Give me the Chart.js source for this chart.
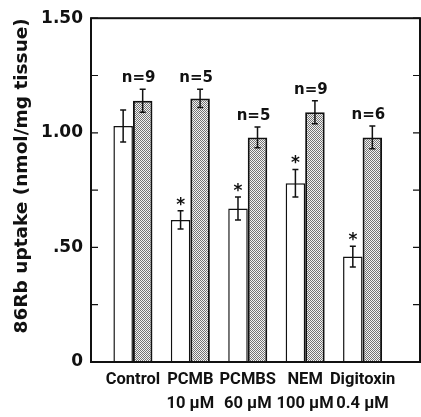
<!DOCTYPE html>
<html>
<head>
<meta charset="utf-8">
<script src="https://cdn.jsdelivr.net/npm/chart.js@4.4.1/dist/chart.umd.min.js"></script>
<style>
    html, body { margin: 0; padding: 0; background: #fff; }
    #display { display: block; }
</style>
</head>
<body>
<canvas id="display" width="421" height="417"></canvas>
<script>
const groups = ["Control", "PCMB", "PCMBS", "NEM", "Digitoxin"];
const doses = ["", "10 µM", "60 µM", "100 µM", "0.4 µM"];
const openMeans = [1.03, 0.62, 0.67, 0.78, 0.46];
const openErrors = [0.07, 0.04, 0.05, 0.06, 0.045];
const dottedMeans = [1.14, 1.15, 0.98, 1.09, 0.98];
const dottedErrors = [0.05, 0.04, 0.045, 0.05, 0.05];
const nValues = [9, 5, 5, 9, 6];
const significant = [false, true, true, true, true];
const yTickValues = [0, 0.5, 1, 1.5];
const yTickLabels = ["0", ".50", "1.00", "1.50"];

const FONT = "'DejaVu Sans', sans-serif";
const NARROW = "Roboto, 'DejaVu Sans', sans-serif";
const INK = "#111";

let makeStipple = function (ctx) {
    const tile = document.createElement("canvas");
    tile.width = 2;
    tile.height = 2;
    const t = tile.getContext("2d");
    t.fillStyle = "#f4f4f4";
    t.fillRect(0, 0, 2, 2);
    t.fillStyle = "#747474";
    t.fillRect(0, 0, 1, 1);
    t.fillRect(1, 1, 1, 1);
    return ctx.createPattern(tile, "repeat");
};

// error bars, n= labels, significance stars, frame with inward ticks
const decorations = {
    id: "decorations",
    afterDatasetsDraw(chart) {
        const ctx = chart.ctx;
        const y = chart.scales.y;
        const sets = [[openMeans, openErrors], [dottedMeans, dottedErrors]];
        ctx.save();
        ctx.strokeStyle = INK;
        ctx.fillStyle = INK;
        ctx.lineWidth = 1.5;
        sets.forEach(([means, errs], d) => {
            chart.getDatasetMeta(d).data.forEach((bar, i) => {
                const top = y.getPixelForValue(means[i] + errs[i]);
                const bottom = y.getPixelForValue(means[i] - errs[i]);
                ctx.beginPath();
                ctx.moveTo(bar.x, top);
                ctx.lineTo(bar.x, bottom);
                ctx.moveTo(bar.x - 3, top);
                ctx.lineTo(bar.x + 3, top);
                ctx.moveTo(bar.x - 3, bottom);
                ctx.lineTo(bar.x + 3, bottom);
                ctx.stroke();
                ctx.textAlign = "center";
                if (d === 1) {
                    ctx.font = "bold 15px " + FONT;
                    ctx.textBaseline = "middle";
                    ctx.fillText("n=" + nValues[i], bar.x - 4, top - 11);
                } else if (significant[i]) {
                    ctx.font = "bold 17px " + FONT;
                    ctx.textBaseline = "alphabetic";
                    ctx.fillText("*", bar.x, top - 1);
                }
            });
        });
        ctx.restore();
    },
    afterDraw(chart) {
        const ctx = chart.ctx;
        const a = chart.chartArea;
        const y = chart.scales.y;
        ctx.save();
        ctx.strokeStyle = INK;
        ctx.lineWidth = 2;
        ctx.strokeRect(a.left, a.top, a.right - a.left, a.bottom - a.top);
        ctx.lineWidth = 1.2;
        ctx.beginPath();
        y.ticks.forEach((tick) => {
            const py = y.getPixelForValue(tick.value);
            ctx.moveTo(a.left, py);
            ctx.lineTo(a.left + 7, py);
            ctx.moveTo(a.right - 7, py);
            ctx.lineTo(a.right, py);
        });
        ctx.stroke();
        ctx.restore();
    }
};

const canvas = document.getElementById("display");
const stipple = makeStipple(canvas.getContext("2d"));

new Chart(canvas, {
    type: "bar",
    data: {
        datasets: [{
            label: "open",
            data: openMeans.map((v, i) => ({x: i, y: v})),
            backgroundColor: "#ffffff",
            borderColor: INK,
            borderWidth: 1.5
        }, {
            label: "dotted",
            data: dottedMeans.map((v, i) => ({x: i, y: v})),
            backgroundColor: stipple,
            borderColor: INK,
            borderWidth: 2
        }]
    },
    options: {
        responsive: false,
        animation: false,
        devicePixelRatio: 1,
        categoryPercentage: 0.68,
        barPercentage: 1,
        layout: {padding: {top: 15, right: 1, left: 0, bottom: 0}},
        plugins: {
            legend: {display: false},
            tooltip: {enabled: false}
        },
        scales: {
            x: {
                type: "linear",
                min: -0.73,
                max: 5,
                offset: false,
                grid: {display: false, drawTicks: false, offset: false},
                border: {display: false},
                afterBuildTicks: (scale) => {
                    scale.ticks = groups.map((g, i) => ({value: i}));
                },
                afterFit: (scale) => {
                    scale.height = 55;
                },
                ticks: {
                    autoSkip: false,
                    maxRotation: 0,
                    padding: 6,
                    color: INK,
                    font: {family: NARROW, size: 16.5, weight: "bold", lineHeight: 1.45},
                    callback: (v) => doses[v] ? [groups[v], doses[v]] : groups[v]
                }
            },
            y: {
                min: 0,
                max: 1.5,
                grid: {display: false, drawTicks: false},
                border: {display: false},
                afterFit: (scale) => {
                    scale.width = 91;
                },
                ticks: {
                    stepSize: 0.25,
                    padding: 8,
                    color: INK,
                    font: {family: FONT, size: 17, weight: "bold"},
                    callback: (v) => {
                        const idx = yTickValues.findIndex((t) => Math.abs(t - v) < 1e-6);
                        return idx === -1 ? "" : yTickLabels[idx];
                    }
                },
                title: {
                    display: true,
                    text: "86Rb uptake (nmol/mg tissue)",
                    align: "end",
                    color: INK,
                    padding: {top: 11, bottom: 0},
                    font: {family: FONT, size: 18.5, weight: "bold"}
                }
            }
        }
    },
    plugins: [decorations]
});
</script>
</body>
</html>
